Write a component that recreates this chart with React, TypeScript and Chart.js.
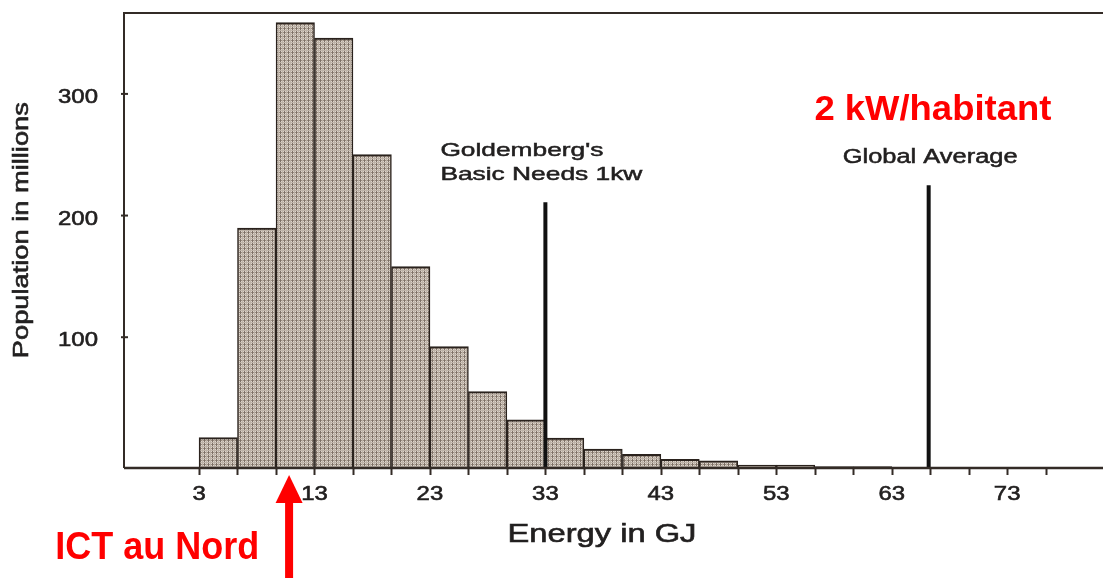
import React, { useEffect, useRef } from "react";
import { Chart, registerables } from "chart.js";

Chart.register(...registerables);

// ---- data ----
const BIN_STARTS = [3, 6.33, 9.67, 13, 16.33, 19.67, 23, 26.33, 29.67, 33, 36.33, 39.67, 43, 46.33, 49.67, 53, 56.33, 59.67];
const BIN_WIDTH = 10 / 3;
const POPULATION = [17.5, 189.8, 358.6, 345.8, 250.1, 158.0, 92.3, 55.3, 32.0, 17.0, 8.0, 3.8, -0.3, -1.7, -5.0, -5.0, -6.4, -6.4];

const X_TICKS = [3, 6.33, 9.67, 13, 16.33, 19.67, 23, 26.33, 29.67, 33, 36.33, 39.67, 43, 46.33, 49.67, 53, 56.33, 59.67, 63, 66.33, 69.67, 73, 76.33];
const X_TICK_LABELS = ["3", "13", "23", "33", "43", "53", "63", "73"];
const Y_TICKS = [100, 200, 300];
const Y_TICK_LABELS = ["100", "200", "300"];

const X_MIN = -3.5;
const X_MAX = 81.3;
const Y_MIN = -7.5;
const Y_MAX = 366.5;

const BASIC_NEEDS_GJ = 33;
const BASIC_NEEDS_TOP = 211;
const GLOBAL_AVG_GJ = 66.2;
const GLOBAL_AVG_TOP = 225;
const ICT_GJ = 10.8;

const TITLE_X = "Energy in GJ";
const TITLE_Y = "Population in millions";
const LABEL_BASIC = ["Goldemberg's", "Basic Needs 1kw"];
const LABEL_GLOBAL = "Global Average";
const LABEL_KW = "2 kW/habitant";
const LABEL_ICT = "ICT au Nord";

const FONT = "'Liberation Sans', Arial, sans-serif";
const INK = "#222020";
const FRAME = "#332b26";
const RED = "#ff0000";

function drawText(
  ctx: CanvasRenderingContext2D,
  text: string,
  x: number,
  y: number,
  font: string,
  color: string,
  opts: { width?: number; sx?: number; align?: CanvasTextAlign; rotate?: number; stroke?: number }
) {
  ctx.save();
  ctx.font = font;
  ctx.fillStyle = color;
  ctx.textBaseline = "alphabetic";
  const w = ctx.measureText(text).width;
  const sx = opts.width ? opts.width / w : opts.sx ?? 1;
  ctx.translate(x, y);
  if (opts.rotate) ctx.rotate(opts.rotate);
  ctx.scale(sx, 1);
  ctx.textAlign = opts.align ?? "left";
  ctx.fillText(text, 0, 0);
  if (opts.stroke) {
    ctx.strokeStyle = color;
    ctx.lineWidth = opts.stroke;
    ctx.strokeText(text, 0, 0);
  }
  ctx.restore();
}

function makePattern(): CanvasPattern | string {
  const c = document.createElement("canvas");
  c.width = 4;
  c.height = 4;
  const g = c.getContext("2d");
  if (!g) return "#b1a79d";
  g.fillStyle = "#ddd5cc";
  g.fillRect(0, 0, 4, 4);
  g.fillStyle = "#998c80";
  g.fillRect(0, 0, 4, 1);
  g.fillStyle = "#7d7066";
  g.fillRect(0, 0, 1, 4);
  g.fillStyle = "#bdb2a7";
  g.fillRect(2, 0, 1, 4);
  g.fillRect(0, 2, 4, 1);
  const p = g.createPattern(c, "repeat");
  return p ?? "#b1a79d";
}

const decorPlugin = {
  id: "decor",
  afterDatasetsDraw(chart: any) {
    const ctx: CanvasRenderingContext2D = chart.ctx;
    const { left, right, top, bottom } = chart.chartArea;
    const xs = chart.scales.x;
    const ys = chart.scales.y;

    // frame
    ctx.save();
    ctx.strokeStyle = FRAME;
    ctx.lineWidth = 2;
    ctx.beginPath();
    ctx.moveTo(left, bottom);
    ctx.lineTo(left, top);
    ctx.lineTo(right, top);
    ctx.stroke();
    ctx.lineWidth = 2.5;
    ctx.beginPath();
    ctx.moveTo(left, bottom);
    ctx.lineTo(right, bottom);
    ctx.stroke();

    // x ticks
    ctx.lineWidth = 2;
    for (const v of X_TICKS) {
      const px = Math.round(xs.getPixelForValue(v)) + 0.5;
      ctx.beginPath();
      ctx.moveTo(px, bottom);
      ctx.lineTo(px, bottom + 7);
      ctx.stroke();
    }
    // y ticks
    for (const v of Y_TICKS) {
      const py = ys.getPixelForValue(v);
      ctx.beginPath();
      ctx.moveTo(left - 3, py);
      ctx.lineTo(left + 4, py);
      ctx.stroke();
    }
    ctx.restore();

    // x tick labels
    const tickFont = `21px ${FONT}`;
    X_TICK_LABELS.forEach((lab) => {
      const px = xs.getPixelForValue(parseFloat(lab));
      drawText(ctx, lab, px, bottom + 32, tickFont, INK, { sx: 1.14, align: "center", stroke: 0.6 });
    });
    // y tick labels
    Y_TICK_LABELS.forEach((lab, i) => {
      const py = ys.getPixelForValue(Y_TICKS[i]);
      drawText(ctx, lab, left - 26, py + 9, tickFont, INK, { sx: 1.14, align: "right", stroke: 0.6 });
    });

    // axis titles
    drawText(ctx, TITLE_X, xs.getPixelForValue(37.9), bottom + 74, `26px ${FONT}`, INK, { width: 189, align: "center", stroke: 0.6 });
    drawText(ctx, TITLE_Y, 28, ys.getPixelForValue(188), `22px ${FONT}`, INK, { width: 256, align: "center", rotate: -Math.PI / 2, stroke: 0.6 });

    // line labels
    const bx = xs.getPixelForValue(BASIC_NEEDS_GJ);
    drawText(ctx, LABEL_BASIC[0], bx - 105, ys.getPixelForValue(248.8), `19px ${FONT}`, INK, { width: 163, stroke: 0.5 });
    drawText(ctx, LABEL_BASIC[1], bx - 105, ys.getPixelForValue(229.1), `19px ${FONT}`, INK, { width: 202, stroke: 0.5 });
    const gx = xs.getPixelForValue(GLOBAL_AVG_GJ);
    drawText(ctx, LABEL_GLOBAL, gx - 86, ys.getPixelForValue(243), `20px ${FONT}`, INK, { width: 175, stroke: 0.5 });

    // red annotations
    drawText(ctx, LABEL_KW, xs.getPixelForValue(56.3), ys.getPixelForValue(278.6), `bold 35px ${FONT}`, RED, { width: 237 });
    drawText(ctx, LABEL_ICT, xs.getPixelForValue(-9.45), bottom + 91, `bold 38px ${FONT}`, RED, { width: 204 });

    // red arrow
    const ax = xs.getPixelForValue(ICT_GJ);
    const tipY = bottom + 7;
    const headY = bottom + 35;
    ctx.save();
    ctx.fillStyle = RED;
    ctx.beginPath();
    ctx.moveTo(ax, tipY);
    ctx.lineTo(ax + 13.5, headY);
    ctx.lineTo(ax - 13.5, headY);
    ctx.closePath();
    ctx.fill();
    ctx.fillRect(ax - 4, headY - 1, 8, chart.height - headY + 1);
    ctx.restore();
  },
};

export default function App() {
  const ref = useRef<HTMLCanvasElement | null>(null);

  useEffect(() => {
    if (!ref.current) return;
    const pattern = makePattern();
    const barData = BIN_STARTS.map((s, i) => ({ x: s + BIN_WIDTH / 2, y: POPULATION[i] }));
    const chart = new Chart(ref.current, {
      type: "bar",
      data: {
        datasets: [
          {
            type: "line",
            data: [
              { x: BASIC_NEEDS_GJ, y: Y_MIN },
              { x: BASIC_NEEDS_GJ, y: BASIC_NEEDS_TOP },
            ],
            borderColor: "#111111",
            borderWidth: 4,
            pointRadius: 0,
            borderCapStyle: "butt",
            order: 0,
          } as any,
          {
            type: "line",
            data: [
              { x: GLOBAL_AVG_GJ, y: Y_MIN },
              { x: GLOBAL_AVG_GJ, y: GLOBAL_AVG_TOP },
            ],
            borderColor: "#111111",
            borderWidth: 4,
            pointRadius: 0,
            borderCapStyle: "butt",
            order: 0,
          } as any,
          {
            type: "bar",
            data: barData,
            base: Y_MIN,
            backgroundColor: pattern,
            borderColor: "#2a221d",
            borderWidth: { top: 2, left: 1.5, right: 1.5, bottom: 0 },
            borderSkipped: false,
            barPercentage: 1,
            categoryPercentage: 1,
            order: 1,
          } as any,
        ],
      },
      options: {
        responsive: false,
        animation: false,
        devicePixelRatio: 1,
        layout: { padding: { left: 124, top: 13, right: 0, bottom: 110 } },
        plugins: { legend: { display: false }, tooltip: { enabled: false }, title: { display: false } },
        scales: {
          x: { type: "linear", min: X_MIN, max: X_MAX, display: false, offset: false },
          y: { type: "linear", min: Y_MIN, max: Y_MAX, display: false, offset: false },
        },
      },
      plugins: [decorPlugin],
    });
    return () => chart.destroy();
  }, []);

  return (
    <div style={{ position: "fixed", left: 0, top: 0, width: 1103, height: 578, background: "#ffffff" }}>
      <canvas ref={ref} width={1103} height={578} style={{ display: "block" }} />
    </div>
  );
}
